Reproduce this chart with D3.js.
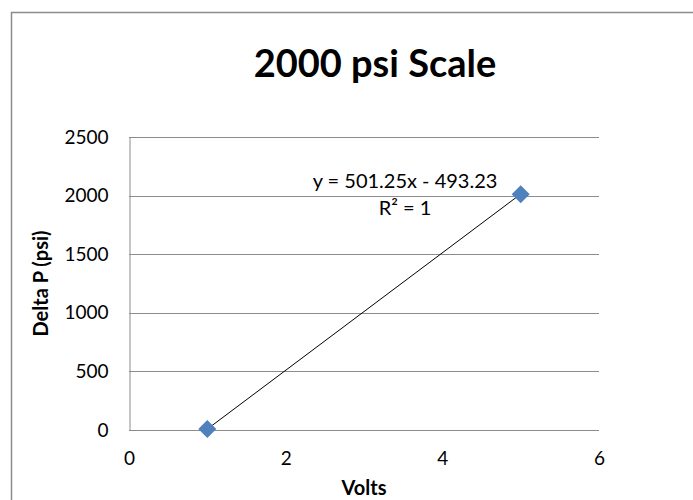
<!DOCTYPE html>
<html>
<head>
<meta charset="utf-8">
<script src="https://cdn.jsdelivr.net/npm/d3@7"></script>
<style>
  body { margin: 0; background: #fff; }
  svg text { font-family: Lato, "Open Sans", sans-serif; }
</style>
</head>
<body>
<div id="chart"></div>
<script>
// data
const volts = [1, 5];
const deltaP = [8, 2012];
const xTicks = [0, 2, 4, 6];
const yTicks = [0, 500, 1000, 1500, 2000, 2500];
const trendText = ['y = 501.25x - 493.23', 'R\u00B2 = 1'];
const trendSlope = 501.25, trendIntercept = -493.23;

const width = 693, height = 500;
const margin = { top: 137, right: 94, bottom: 70, left: 129 };

const svg = d3.select('#chart').append('svg')
  .attr('width', width).attr('height', height);

// chart frame
svg.append('rect')
  .attr('x', 11.5).attr('y', 12.5)
  .attr('width', width + 10).attr('height', height + 10)
  .attr('fill', '#fff').attr('stroke', '#8c8c8c').attr('stroke-width', 1.5);

const x = d3.scaleLinear().domain([0, 6]).range([margin.left, width - margin.right]);
const y = d3.scaleLinear().domain([0, 2500]).range([height - margin.bottom, margin.top]);

// gridlines
svg.append('g')
  .selectAll('line').data(yTicks.filter(d => d > 0)).enter().append('line')
  .attr('x1', x(0)).attr('x2', x(6))
  .attr('y1', d => Math.round(y(d)) + 0.5).attr('y2', d => Math.round(y(d)) + 0.5)
  .attr('stroke', '#8c8c8c').attr('stroke-width', 1);

// axes
const yAxis = svg.append('g')
  .attr('transform', `translate(${Math.round(x(0)) + 0.5},0)`)
  .call(d3.axisLeft(y).tickValues(yTicks).tickSize(0).tickPadding(21).tickFormat(d3.format('d')));

const xAxis = svg.append('g')
  .attr('transform', `translate(0,${Math.round(y(0)) + 0.5})`)
  .call(d3.axisBottom(x).tickValues(xTicks).tickSize(0).tickPadding(21).tickFormat(d3.format('d')));

svg.selectAll('.tick text')
  .style('font-family', 'Lato, "Open Sans", sans-serif')
  .style('font-size', '19px').attr('fill', '#000');
svg.selectAll('.domain').attr('stroke', '#8c8c8c');
xAxis.select('.domain').attr('d', `M${x(0)},0H${x(6)}`);

// trendline
svg.append('line')
  .attr('x1', x(volts[0])).attr('y1', y(trendSlope * volts[0] + trendIntercept))
  .attr('x2', x(volts[1])).attr('y2', y(trendSlope * volts[1] + trendIntercept))
  .attr('stroke', '#000').attr('stroke-width', 1);

// diamond markers
svg.append('g').selectAll('path').data(volts).enter().append('path')
  .attr('transform', (d, i) => `translate(${x(d)},${y(deltaP[i])})`)
  .attr('d', 'M0,-9L9,0L0,9L-9,0Z')
  .attr('fill', '#4f81bd');

// trendline label
svg.append('g').selectAll('text').data(trendText).enter().append('text')
  .attr('x', 405).attr('y', (d, i) => 188 + i * 27)
  .attr('text-anchor', 'middle')
  .style('font-size', '20px')
  .text(d => d);

// title and axis titles
svg.append('text')
  .attr('x', 375).attr('y', 77)
  .attr('text-anchor', 'middle')
  .style('font-size', '38px').style('font-weight', 'bold')
  .text('2000 psi Scale');

svg.append('text')
  .attr('x', x(3)).attr('y', 495)
  .attr('text-anchor', 'middle')
  .style('font-size', '20px').style('font-weight', 'bold')
  .text('Volts');

svg.append('text')
  .attr('transform', `translate(48,${y(1250)}) rotate(-90)`)
  .attr('text-anchor', 'middle')
  .style('font-size', '20px').style('font-weight', 'bold')
  .text('Delta P (psi)');
</script>
</body>
</html>
